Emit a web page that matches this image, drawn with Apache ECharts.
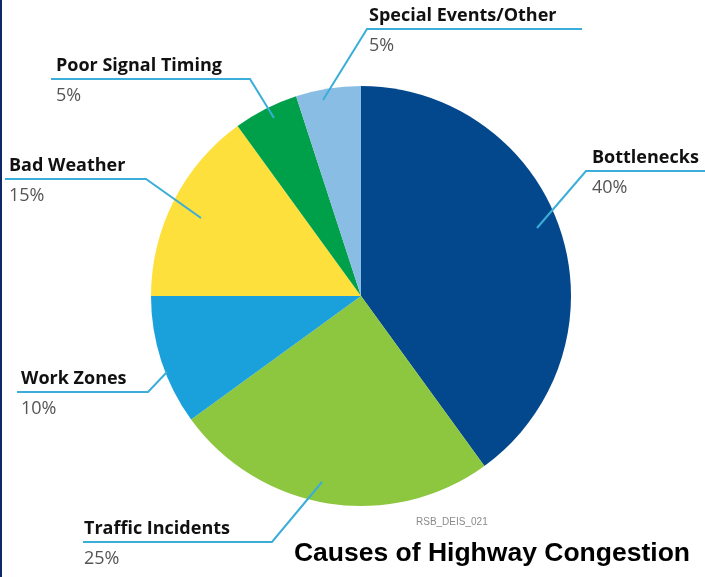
<!DOCTYPE html>
<html>
<head>
<meta charset="utf-8">
<script src="https://cdn.jsdelivr.net/npm/echarts@6/dist/echarts.min.js"></script>
<style>
html,body{margin:0;padding:0;background:#ffffff;}
#chart{width:705px;height:577px;}
</style>
</head>
<body>
<div id="chart"></div>
<script>
// ---- data ----
const categories = ['Bottlenecks', 'Traffic Incidents', 'Work Zones', 'Bad Weather', 'Poor Signal Timing', 'Special Events/Other'];
const values = [40, 25, 10, 15, 5, 5];
const sliceColors = ['#03488c', '#8dc63f', '#1aa0da', '#fde03b', '#00a04b', '#89bde3'];
const titleText = 'Causes of Highway Congestion';
const sourceText = 'RSB_DEIS_021';

// label placement: [textLeft, underlineY, underlineStartX, underlineEndX, innerX, innerY]
const labelPlacement = [
  [592, 171, 586, 705, 537, 228],
  [84, 542, 272, 83, 322, 482],
  [21, 392, 148, 17, 167, 372],
  [9, 179, 146, 5, 201, 218],
  [56, 79, 250, 51, 274, 118],
  [369, 29, 367, 582, 323, 100]
];

const chart = echarts.init(document.getElementById('chart'), null, {renderer: 'canvas'});

const leaderLines = labelPlacement.map(a => ({
  type: 'polyline',
  z: 100,
  shape: {points: [[a[4], a[5]], [a[2], a[1]], [a[3], a[1]]]},
  style: {stroke: '#3aaed8', lineWidth: 2, fill: null}
}));

const option = {
  backgroundColor: '#ffffff',
  animation: false,
  title: {
    text: titleText,
    right: 15,
    top: 540,
    padding: 0,
    textStyle: {
      fontFamily: 'Liberation Sans, Arial, sans-serif',
      fontWeight: 'bold',
      fontSize: 26.5,
      color: '#000000'
    }
  },
  graphic: [
    {type: 'rect', left: 0, top: 0, shape: {width: 2, height: 577}, style: {fill: '#0b2a63'}},
    {type: 'text', left: 416, top: 517, style: {text: sourceText, fontFamily: 'Liberation Sans Narrow, Liberation Sans, Arial, sans-serif', fontSize: 10, fill: '#8a8a8a'}}
  ].concat(leaderLines),
  series: [{
    type: 'pie',
    center: [361, 296],
    radius: 210,
    startAngle: 90,
    clockwise: true,
    avoidLabelOverlap: false,
    data: categories.map((c, i) => ({name: c, value: values[i], itemStyle: {color: sliceColors[i]}})),
    label: {
      show: true,
      position: 'outside',
      formatter: p => '{n|' + p.name + '}\n{p|' + p.value + '%}',
      rich: {
        n: {fontFamily: 'Open Sans, sans-serif', fontWeight: 'bold', fontSize: 18, color: '#111111', lineHeight: 30},
        p: {fontFamily: 'Open Sans, sans-serif', fontSize: 18, color: '#555555', lineHeight: 31}
      }
    },
    labelLine: {show: false},
    labelLayout: function (params) {
      const a = labelPlacement[params.dataIndex];
      return {
        x: a[0],
        y: a[1] + 2,
        align: 'left',
        verticalAlign: 'middle'
      };
    },
    emphasis: {disabled: true}
  }]
};
chart.setOption(option);
</script>
</body>
</html>
